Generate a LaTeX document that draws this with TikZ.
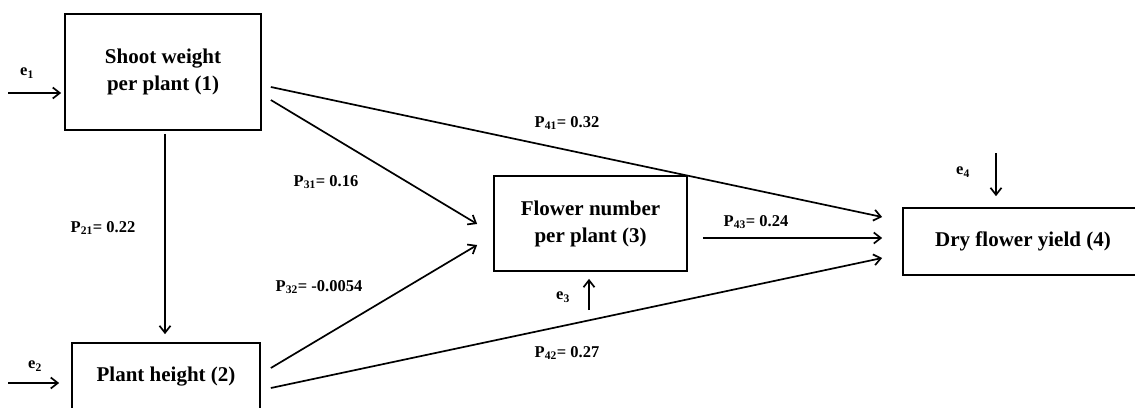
\documentclass[tikz,border=0pt]{standalone}
\usepackage{fontspec}
\setmainfont{Liberation Serif}
\usetikzlibrary{arrows.meta,calc}
\begin{document}
\begin{tikzpicture}[x=1pt,y=-1pt,
  box/.style={draw,line width=1.7pt,rectangle,inner sep=0pt,align=center,
    font=\fontsize{21}{27}\selectfont\bfseries},
  lab/.style={font=\fontsize{16.5}{19}\selectfont\bfseries,inner sep=0pt},
  con/.style={line width=1.7pt,-{Straight Barb[length=7pt,width=11pt,line width=1.7pt]}}]
\useasboundingbox (0,0) rectangle (1135,407);
\node[box,minimum width=196pt,minimum height=116pt] (b1) at (163,72) {Shoot weight\\per plant (1)};
\node[box,minimum width=188pt,minimum height=67pt] (b2) at (166,376.5) {Plant height (2)};
\node[box,minimum width=193pt,minimum height=95pt] (b3) at (590.5,223.5) {Flower number\\per plant (3)};
\node[box,minimum width=240pt,minimum height=67pt] (b4) at (1023,241.5) {Dry flower yield (4)};
\coordinate (e1s) at (8,93);
\coordinate (e2s) at (8,383);
\coordinate (e3s) at (589,310);
\coordinate (e4s) at (996,153);
\draw[con,shorten >=3pt] (e1s) -- (b1.west |- e1s);
\draw[con,shorten >=12pt] (e2s) -- (b2.west |- e2s);
\draw[con,shorten <=3pt,shorten >=8pt] ([xshift=2pt]b1.south) -- ([xshift=2pt]b1.south |- b2.north);
\draw[con] ([xshift=9pt,yshift=-15pt]b1.east) -- ([xshift=-20pt,yshift=24.5pt]b4.west);
\draw[con] ([xshift=9pt,yshift=-28pt]b1.east) -- ([xshift=-16pt,yshift=-0.5pt]b3.west);
\draw[con] ([xshift=10pt,yshift=8.5pt]b2.east) -- ([xshift=-16pt,yshift=-21.5pt]b3.west);
\draw[con] ([xshift=10pt,yshift=-11.5pt]b2.east) -- ([xshift=-20pt,yshift=-16.5pt]b4.west);
\draw[con] ([xshift=15pt,yshift=-14.5pt]b3.east) -- ([xshift=-20pt,yshift=3.5pt]b4.west);
\draw[con,shorten >=7pt] (e3s) -- (e3s |- b3.south);
\draw[con,shorten >=11pt] (e4s) -- (e4s |- b4.north);
\node[lab] (le1) at (27,73) {e\textsubscript{1}};
\node[lab] (le2) at (35,366) {e\textsubscript{2}};
\node[lab] (le3) at (563,297) {e\textsubscript{3}};
\node[lab] (le4) at (963,172) {e\textsubscript{4}};
\node[lab] (p21) at (103,228) {P\textsubscript{21}= 0.22};
\node[lab] (p31) at (326,182) {P\textsubscript{31}= 0.16};
\node[lab] (p32) at (319,287) {P\textsubscript{32}= -0.0054};
\node[lab] (p41) at (567,123) {P\textsubscript{41}= 0.32};
\node[lab] (p43) at (756,222) {P\textsubscript{43}= 0.24};
\node[lab] (p42) at (567,353) {P\textsubscript{42}= 0.27};
\end{tikzpicture}
\end{document}
